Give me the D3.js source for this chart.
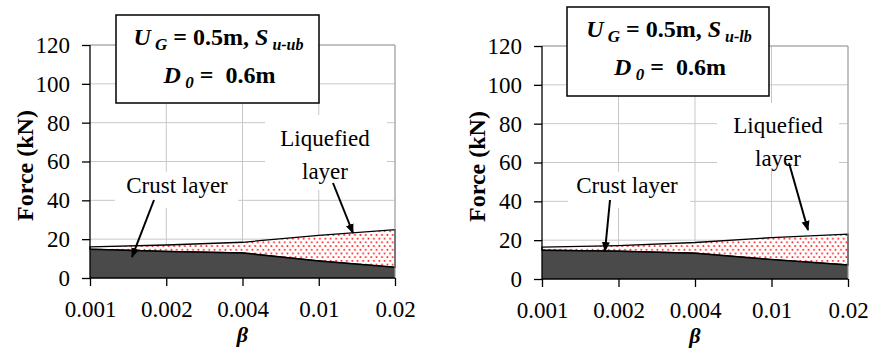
<!DOCTYPE html>
<html>
<head>
<style>
  body { margin: 0; background: #fff; }
  svg text { font-family: "Liberation Serif", "Times New Roman", serif; }
</style>
<script src="https://d3js.org/d3.v7.min.js"></script>
</head>
<body>
<svg id="chart" width="872" height="349" font-family="Liberation Serif"></svg>
<script>
// beta values (categories on the x axis)
var categories = ["0.001", "0.002", "0.004", "0.01", "0.02"];
var yTicks = [0, 20, 40, 60, 80, 100, 120];

// left panel: S u-ub
var leftCrust = [14.8, 13.7, 12.9, 8.8, 5.5];
var leftTotal = [16.0, 17.0, 18.4, 22.0, 24.9];

// right panel: S u-lb
var rightCrust = [14.8, 14.3, 13.3, 10.0, 7.2];
var rightTotal = [16.4, 17.2, 18.8, 21.3, 23.1];

var FONT = "Liberation Serif";
var svg = d3.select("#chart");

var defs = svg.append("defs");
var pat = defs.append("pattern")
    .attr("id", "dots")
    .attr("patternUnits", "userSpaceOnUse")
    .attr("width", 5.4).attr("height", 7.4);
pat.append("rect").attr("width", 5.4).attr("height", 7.4).attr("fill", "#fff");
pat.append("circle").attr("cx", 1.3).attr("cy", 1.8).attr("r", 0.95).attr("fill", "#ff1010");
pat.append("circle").attr("cx", 4.0).attr("cy", 5.5).attr("r", 0.95).attr("fill", "#ff1010");

defs.append("marker")
    .attr("id", "arrow")
    .attr("viewBox", "0 0 10 10")
    .attr("refX", 9).attr("refY", 5)
    .attr("markerWidth", 5).attr("markerHeight", 5)
    .attr("markerUnits", "strokeWidth")
    .attr("orient", "auto")
  .append("path")
    .attr("d", "M0,1 L10,5 L0,9 Z")
    .attr("fill", "#000");

function drawPanel(p) {
  var x = d3.scalePoint().domain(categories).range([p.left, p.right]);
  var y = d3.scaleLinear().domain([0, 120]).range([p.bottom, p.top]);
  var g = svg.append("g").attr("font-family", FONT);

  // grid
  g.append("g").selectAll("line").data(yTicks.slice(1)).enter().append("line")
      .attr("x1", p.left).attr("x2", p.right)
      .attr("y1", d => y(d)).attr("y2", d => y(d))
      .attr("stroke", "#c8c8c8").attr("stroke-width", 1);
  g.append("g").selectAll("line").data(categories.slice(1)).enter().append("line")
      .attr("x1", d => x(d)).attr("x2", d => x(d))
      .attr("y1", p.top).attr("y2", p.bottom)
      .attr("stroke", "#c8c8c8").attr("stroke-width", 1);

  // white backdrops behind the labels
  p.masks.forEach(function (m) {
    g.append("rect").attr("x", m[0]).attr("y", m[1])
      .attr("width", m[2] - m[0]).attr("height", m[3] - m[1]).attr("fill", "#fff");
  });

  var rows = categories.map((c, i) => ({c: c, crust: p.crust[i], total: p.total[i]}));

  var liq = d3.area().x(d => x(d.c)).y0(d => y(d.crust)).y1(d => y(d.total));
  g.append("path").datum(rows).attr("d", liq)
      .attr("fill", "url(#dots)").attr("stroke", "#000").attr("stroke-width", 1.3);

  var crust = d3.area().x(d => x(d.c)).y0(y(0)).y1(d => y(d.crust));
  g.append("path").datum(rows).attr("d", crust)
      .attr("fill", "#4a4a4a").attr("stroke", "none");
  g.append("path").datum(rows)
      .attr("d", d3.line().x(d => x(d.c)).y(d => y(d.crust)))
      .attr("fill", "none").attr("stroke", "#000").attr("stroke-width", 1.5);

  // frame (top and right)
  g.append("path")
      .attr("d", "M" + p.left + "," + p.top + "H" + p.right + "V" + p.bottom)
      .attr("fill", "none").attr("stroke", "#a0a0a0").attr("stroke-width", 1);

  // axes
  var ya = g.append("g").attr("transform", "translate(" + p.left + ",0)")
      .call(d3.axisLeft(y).tickValues(yTicks).tickSize(8).tickPadding(12));
  var xa = g.append("g").attr("transform", "translate(0," + p.bottom + ")")
      .call(d3.axisBottom(x).tickSize(8).tickPadding(15));
  [ya, xa].forEach(function (a) {
    a.attr("font-family", FONT).attr("font-size", 23);
    a.select(".domain").attr("stroke", "#000").attr("stroke-width", 1.3);
    a.selectAll(".tick line").attr("stroke", "#000").attr("stroke-width", 1.3);
    a.selectAll(".tick text").attr("font-family", FONT).attr("font-size", 23).attr("fill", "#000");
  });
  ya.select(".domain").attr("d", "M0," + p.top + "V" + p.bottom);
  xa.select(".domain").attr("d", "M" + p.left + ",0H" + p.right);

  // axis titles
  g.append("text")
      .attr("transform", "translate(" + (p.left - 57) + "," + ((p.top + p.bottom) / 2 + 4) + ") rotate(-90)")
      .attr("text-anchor", "middle").attr("font-size", 24).attr("font-weight", "bold")
      .text("Force (kN)");
  g.append("text")
      .attr("x", (p.left + p.right) / 2).attr("y", p.bottom + 64)
      .attr("text-anchor", "middle").attr("font-size", 22)
      .attr("font-weight", "bold").attr("font-style", "italic")
      .text("β");

  // parameter box
  var b = p.box;
  g.append("rect").attr("x", b[0]).attr("y", b[1])
      .attr("width", b[2] - b[0]).attr("height", b[3] - b[1])
      .attr("fill", "#fff").attr("stroke", "#000").attr("stroke-width", 1.5);
  var cx = (b[0] + b[2]) / 2;
  var t1 = g.append("text").attr("x", cx + 1).attr("y", b[1] + 30)
      .attr("text-anchor", "middle").attr("font-size", 24).attr("font-weight", "bold")
      .attr("xml:space", "preserve");
  t1.append("tspan").attr("font-style", "italic").text("U");
  t1.append("tspan").attr("font-style", "italic").attr("font-size", 17).attr("dy", 5).text(" G");
  t1.append("tspan").attr("dy", -5).text(" = 0.5m, ");
  t1.append("tspan").attr("font-style", "italic").text("S");
  t1.append("tspan").attr("font-style", "italic").attr("font-size", 16).attr("dy", 5).text(" " + p.sub);
  var t2 = g.append("text").attr("x", cx + 2).attr("y", b[1] + 68)
      .attr("text-anchor", "middle").attr("font-size", 24).attr("font-weight", "bold")
      .attr("xml:space", "preserve");
  t2.append("tspan").attr("font-style", "italic").text("D");
  t2.append("tspan").attr("font-style", "italic").attr("font-size", 17).attr("dy", 5).text(" 0");
  t2.append("tspan").attr("dy", -5).text(" =  0.6m");

  // layer labels and arrows
  g.append("text").attr("x", p.crustLabel[0]).attr("y", p.crustLabel[1])
      .attr("text-anchor", "middle").attr("font-size", 23).text("Crust layer");
  g.append("text").attr("x", p.liqLabel[0]).attr("y", p.liqLabel[1])
      .attr("text-anchor", "middle").attr("font-size", 23).text("Liquefied");
  g.append("text").attr("x", p.liqLabel[0]).attr("y", p.liqLabel[1] + 33)
      .attr("text-anchor", "middle").attr("font-size", 23).text("layer");
  p.arrows.forEach(function (a) {
    g.append("line").attr("x1", a[0]).attr("y1", a[1]).attr("x2", a[2]).attr("y2", a[3])
      .attr("stroke", "#000").attr("stroke-width", 2).attr("marker-end", "url(#arrow)");
  });
}

drawPanel({
  left: 90, right: 395, top: 45, bottom: 278,
  crust: leftCrust, total: leftTotal, sub: "u-ub",
  box: [116, 15, 319, 103],
  masks: [[115, 172, 238, 208], [265, 115, 387, 190]],
  crustLabel: [177, 193], liqLabel: [325, 146],
  arrows: [[154, 200, 132, 257], [333, 183, 353, 233]]
});

drawPanel({
  left: 542, right: 848, top: 46, bottom: 279,
  crust: rightCrust, total: rightTotal, sub: "u-lb",
  box: [567, 7, 769, 96],
  masks: [[568, 172, 690, 208], [717, 103, 839, 168]],
  crustLabel: [627, 193], liqLabel: [778, 133],
  arrows: [[610, 200, 605, 251], [789, 163, 808, 230]]
});
</script>
</body>
</html>
